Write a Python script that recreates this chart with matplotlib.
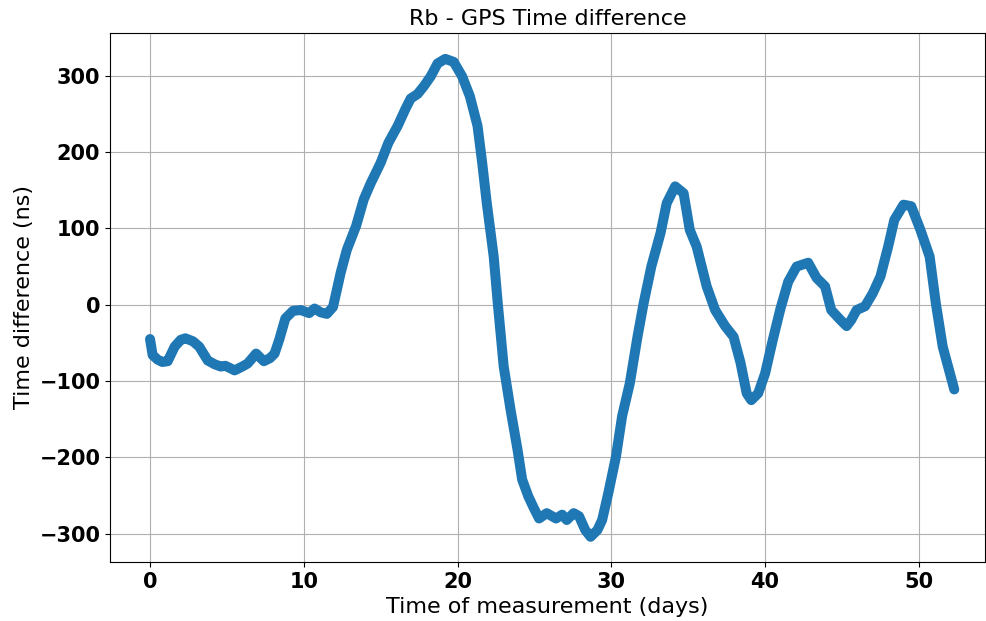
import numpy as np
import matplotlib
matplotlib.use("Agg")
from matplotlib import pyplot as plt

# (days, ns)
days = [0.0, 0.17, 0.5, 0.8, 1.15, 1.6, 2.0, 2.3, 2.8, 3.2, 3.75, 4.2, 4.6, 4.9,
        5.5, 6.0, 6.35, 6.9, 7.4, 7.8, 8.1, 8.4, 8.8, 9.3, 9.8, 10.35, 10.7,
        11.1, 11.5, 11.9, 12.4, 12.8, 13.4, 13.9, 14.35, 15.0, 15.5, 16.1, 16.6,
        16.95, 17.4, 17.8, 18.25, 18.7, 19.2, 19.75, 20.3, 20.8, 21.3, 21.6,
        21.9, 22.35, 22.6, 23.0, 23.45, 23.9, 24.2, 24.6, 24.95, 25.3, 25.8,
        26.4, 26.8, 27.1, 27.55, 27.9, 28.3, 28.65, 29.1, 29.4, 29.8, 30.3,
        30.7, 31.2, 31.7, 32.1, 32.6, 33.2, 33.6, 34.15, 34.7, 35.1, 35.55,
        36.2, 36.75, 37.4, 37.95, 38.4, 38.8, 39.1, 39.55, 40.0, 40.5, 41.0,
        41.5, 42.05, 42.8, 43.35, 43.9, 44.3, 44.9, 45.3, 45.6, 45.95, 46.5,
        47.0, 47.5, 48.0, 48.4, 49.0, 49.5, 50.1, 50.7, 51.1, 51.55, 52.3]
tdiff = [-45, -66, -72, -75, -74, -55, -46, -44, -48, -55, -73, -78, -81, -80,
         -86, -81, -77, -64, -74, -70, -64, -46, -18, -8, -7, -11, -5,
         -10, -12, -3, 42, 72, 103, 138, 159, 186, 212, 234, 256,
         270, 276, 286, 299, 316, 322, 318, 299, 273, 234, 186,
         133, 63, 5, -81, -138, -190, -229, -251, -266, -280, -273,
         -280, -275, -282, -273, -277, -295, -304, -295, -282, -247, -199,
         -146, -103, -42, 2, 50, 94, 133, 155, 146, 98, 76,
         24, -7, -28, -42, -76, -116, -125, -116, -90, -46, -5,
         30, 50, 55, 35, 24, -7, -20, -28, -20, -7, -2,
         15, 37, 76, 111, 131, 129, 98, 63, 2, -55, -111]

fig = plt.figure(figsize=(9.86, 6.21), dpi=100)
ax = fig.add_axes([0.1116, 0.095, 0.8874, 0.852])

ax.plot(days, tdiff, color='#1f77b4', linewidth=7.2,
        solid_capstyle='round', solid_joinstyle='round')

ax.set_xlim(-2.6, 54.3)
ax.set_ylim(-337, 356)
ax.grid(True)
ax.set_axisbelow(True)

ax.set_title('Rb - GPS Time difference', fontsize=16)
ax.set_xlabel('Time of measurement (days)', fontsize=16)
ax.set_ylabel('Time difference (ns)', fontsize=16)
for lbl in ax.get_xticklabels() + ax.get_yticklabels():
    lbl.set_fontweight('bold')
    lbl.set_fontsize(15)

plt.savefig('out.png', dpi=100)
